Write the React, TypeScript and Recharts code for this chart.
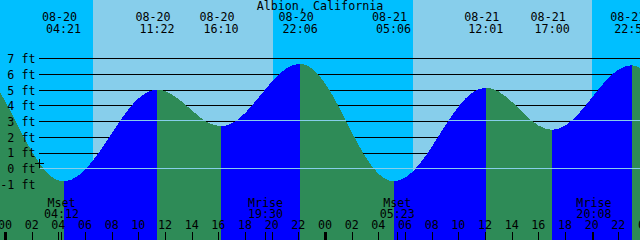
import React from "react";
import { AreaChart, Area, XAxis, YAxis, ReferenceArea, ReferenceLine } from "recharts";

const stationTitle = "Albion, California";
const firstDate = "08-20";

// Tide extremes
const tideDates = ["08-20", "08-20", "08-20", "08-20", "08-21", "08-21", "08-21", "08-21"];
const tideTimes = ["04:21", "11:22", "16:10", "22:06", "05:06", "12:01", "17:00", "22:58"];
const tideFeet = [-0.79, 5.03, 2.71, 6.68, -0.79, 5.16, 2.48, 6.59];
const tideKinds = ["low", "high", "low", "high", "low", "high", "low", "high"];

// Hourly readings of the tide curve (hours since 08-20 00:00, feet)
const sampleHours = [-1, 0, 1, 2, 3, 4, 5, 6, 7, 8, 9, 10, 11, 12, 13, 14, 15, 17, 18, 19, 20, 21, 23, 24, 25, 26, 27, 28, 30, 31, 32, 33, 34, 35, 37, 38, 39, 40, 42, 43, 44, 45, 46, 48];
const sampleFeet = [5.63, 4.26, 2.62, 1.06, -0.14, -0.75, -0.67, -0.03, 1.03, 2.3, 3.54, 4.5, 4.99, 4.93, 4.43, 3.7, 3.03, 2.9, 3.57, 4.55, 5.57, 6.35, 6.38, 5.4, 3.94, 2.28, 0.75, -0.34, -0.55, 0.25, 1.44, 2.78, 3.99, 4.84, 4.91, 4.24, 3.41, 2.74, 2.76, 3.52, 4.55, 5.58, 6.33, 6.19];

// Moon events
const moonDates = ["08-20", "08-20", "08-21", "08-21"];
const moonTimes = ["04:12", "19:30", "05:23", "20:08"];
const moonKinds = ["Mset", "Mrise", "Mset", "Mrise"];

// Sun events
const sunDates = ["08-20", "08-20", "08-21", "08-21"];
const sunTimes = ["06:32", "20:02", "06:33", "20:01"];
const sunKinds = ["rise", "set", "rise", "set"];

const heightTicks = [-1, 0, 1, 2, 3, 4, 5, 6, 7];
const hourTicks = [0, 2, 4, 6, 8, 10, 12, 14, 16, 18, 20, 22, 24, 26, 28, 30, 32, 34, 36, 38, 40, 42, 44, 46, 48];
const meanLevelFt = 3.07;
const datumFt = 0;

const W = 640;
const H = 240;
const xDomain: [number, number] = [-0.4125, 47.5875];
const yDomain: [number, number] = [-4.53, 10.74];

const NIGHT = "#00BFFF";
const DAY = "#87CEEB";
const FLOOD = "#0000FF";
const EBB = "#2E8B57";
const MARK = "#87CEEB";
const INK = "#000000";
const FONT = "'DejaVu Sans Mono', 'Liberation Mono', monospace";
const FS = 11.7;
const LABEL_COL = 39;

function toHours(date: string, time: string) {
  const day = parseInt(date.slice(3), 10) - parseInt(firstDate.slice(3), 10);
  const [hh, mm] = time.split(":").map(Number);
  return day * 24 + hh + mm / 60;
}

const tideHours = tideDates.map((d, i) => toHours(d, tideTimes[i]));
const moonHours = moonDates.map((d, i) => toHours(d, moonTimes[i]));
const sunHours = sunDates.map((d, i) => toHours(d, sunTimes[i]));

const rows = [
  ...sampleHours.map((h, i) => ({ h, ft: sampleFeet[i] })),
  ...tideHours.map((h, i) => ({ h, ft: tideFeet[i] })),
].sort((a, b) => a.h - b.h);

const hFirst = rows[0].h;
const hLast = rows[rows.length - 1].h;
const ftTop = Math.max(...rows.map((r) => r.ft));

// flood / ebb colour split
const fillStops: { offset: number; color: string }[] = [];
let cur = tideKinds[0] === "low" ? EBB : FLOOD;
fillStops.push({ offset: 0, color: cur });
tideHours.forEach((h, i) => {
  const off = (h - hFirst) / (hLast - hFirst);
  fillStops.push({ offset: off, color: cur });
  cur = tideKinds[i] === "low" ? FLOOD : EBB;
  fillStops.push({ offset: off, color: cur });
});
fillStops.push({ offset: 1, color: cur });

// mean level band (1px) inside the water
const pxFt = (yDomain[1] - yDomain[0]) / H;
const bandOff = (ft: number) => (ftTop - ft) / (ftTop - yDomain[0]);
const bandA = bandOff(meanLevelFt + pxFt / 2);
const bandB = bandOff(meanLevelFt - pxFt / 2);

// day / night bands
const skyBands: { x1?: number; x2?: number; fill: string }[] = [];
{
  let start: number | undefined = undefined;
  let isDay = sunKinds[0] === "set";
  sunHours.forEach((h, i) => {
    skyBands.push({ x1: start, x2: h, fill: isDay ? DAY : NIGHT });
    start = h;
    isDay = sunKinds[i] === "rise";
  });
  skyBands.push({ x1: start, x2: undefined, fill: isDay ? DAY : NIGHT });
}

const pad2 = (n: number) => String(n).padStart(2, "0");
const txt = { fontFamily: FONT, fontSize: FS, fill: INK } as const;

const hourShape = (v: number) => (p: any) => {
  const x = p.x1;
  const midnight = v % 24 === 0;
  return (
    <g>
      <text x={x - 0.5} y={H - 10.7} textAnchor="middle" {...txt}>
        {pad2(v % 24)}
      </text>
      <rect x={Math.floor(x) - (midnight ? 1 : 0)} y={H - 8} width={midnight ? 3 : 1} height={8} fill={INK} />
    </g>
  );
};

const feetShape = (v: number) => (p: any) => (
  <text x={LABEL_COL - 3.5} y={p.y1 + 4.3} textAnchor="end" {...txt}>
    {`${v} ft`}
  </text>
);

const GridShape = (p: any) => {
  const y = Math.floor(p.y1) + 0.5;
  return <line x1={LABEL_COL} x2={p.x2} y1={y} y2={y} stroke={INK} strokeWidth={1} />;
};

const DatumShape = (p: any) => {
  const y = Math.floor(p.y1) + 0.5;
  return (
    <g>
      <line x1={LABEL_COL + 1} x2={p.x2} y1={y} y2={y} stroke={MARK} strokeWidth={1} />
      <line x1={LABEL_COL - 4} x2={LABEL_COL + 5} y1={y - 5} y2={y - 5} stroke={INK} strokeWidth={1} />
      <line x1={LABEL_COL + 0.5} x2={LABEL_COL + 0.5} y1={y - 9.5} y2={y - 0.5} stroke={INK} strokeWidth={1} />
    </g>
  );
};

const eventShape = (i: number) => (p: any) => {
  const x = p.x1;
  return (
    <g>
      <text x={x - 4} y={21.3} textAnchor="middle" {...txt}>
        {tideDates[i]}
      </text>
      <text x={x} y={33.3} textAnchor="middle" {...txt}>
        {tideTimes[i]}
      </text>
    </g>
  );
};

const moonShape = (i: number) => (p: any) => {
  const x = p.x1;
  return (
    <g>
      <text x={x} y={206.5} textAnchor="middle" {...txt}>
        {moonKinds[i]}
      </text>
      <text x={x} y={217.6} textAnchor="middle" {...txt}>
        {moonTimes[i]}
      </text>
      <rect x={Math.floor(x)} y={H - 8} width={1} height={8} fill={INK} />
    </g>
  );
};

export default function App() {
  return (
    <div style={{ position: "absolute", left: 0, top: 0, width: W, height: H }}>
      <AreaChart
        width={W}
        height={H}
        data={rows}
        margin={{ top: 0, right: 0, bottom: 0, left: 0 }}
        style={{ shapeRendering: "crispEdges" }}
      >
        <defs>
          <linearGradient id="tideFill" x1="0" y1="0" x2="1" y2="0">
            {fillStops.map((s, i) => (
              <stop key={i} offset={s.offset} stopColor={s.color} />
            ))}
          </linearGradient>
          <linearGradient id="meanBand" x1="0" y1="0" x2="0" y2="1">
            <stop offset={0} stopColor={MARK} stopOpacity={0} />
            <stop offset={bandA} stopColor={MARK} stopOpacity={0} />
            <stop offset={bandA} stopColor={MARK} stopOpacity={1} />
            <stop offset={bandB} stopColor={MARK} stopOpacity={1} />
            <stop offset={bandB} stopColor={MARK} stopOpacity={0} />
            <stop offset={1} stopColor={MARK} stopOpacity={0} />
          </linearGradient>
          <clipPath id="gridArea">
            <rect x={LABEL_COL + 1} y={0} width={W} height={H} />
          </clipPath>
        </defs>

        <XAxis type="number" dataKey="h" domain={xDomain} allowDataOverflow hide />
        <YAxis type="number" domain={yDomain} allowDataOverflow hide />

        {skyBands.map((b, i) => (
          <ReferenceArea
            key={"sky" + i}
            x1={b.x1}
            x2={b.x2}
            fill={b.fill}
            fillOpacity={1}
            stroke="none"
            ifOverflow="hidden"
            zIndex={-300}
          />
        ))}

        {heightTicks
          .filter((k) => k !== datumFt)
          .map((k) => (
            <ReferenceLine key={"g" + k} y={k} shape={GridShape} zIndex={-200} />
          ))}

        <Area
          type="monotone"
          dataKey="ft"
          baseValue="dataMin"
          fill="url(#tideFill)"
          fillOpacity={1}
          stroke="none"
          dot={false}
          activeDot={false}
          isAnimationActive={false}
          zIndex={100}
        />
        <Area
          type="monotone"
          dataKey="ft"
          baseValue="dataMin"
          fill="url(#meanBand)"
          fillOpacity={1}
          stroke="none"
          dot={false}
          activeDot={false}
          isAnimationActive={false}
          clipPath="url(#gridArea)"
          zIndex={110}
        />

        <ReferenceLine y={datumFt} shape={DatumShape} zIndex={120} />

        {heightTicks.map((k) => (
          <ReferenceLine key={"ft" + k} y={k} shape={feetShape(k)} zIndex={2000} />
        ))}
        {hourTicks.map((v) => (
          <ReferenceLine key={"hr" + v} x={v} shape={hourShape(v)} ifOverflow="visible" zIndex={2000} />
        ))}
        {tideHours.map((h, i) => (
          <ReferenceLine key={"ev" + i} x={h} shape={eventShape(i)} zIndex={2000} />
        ))}
        {moonHours.map((h, i) => (
          <ReferenceLine key={"moon" + i} x={h} shape={moonShape(i)} zIndex={2000} />
        ))}

        <text x={W / 2} y={9.8} textAnchor="middle" {...txt}>
          {stationTitle}
        </text>
      </AreaChart>
    </div>
  );
}
